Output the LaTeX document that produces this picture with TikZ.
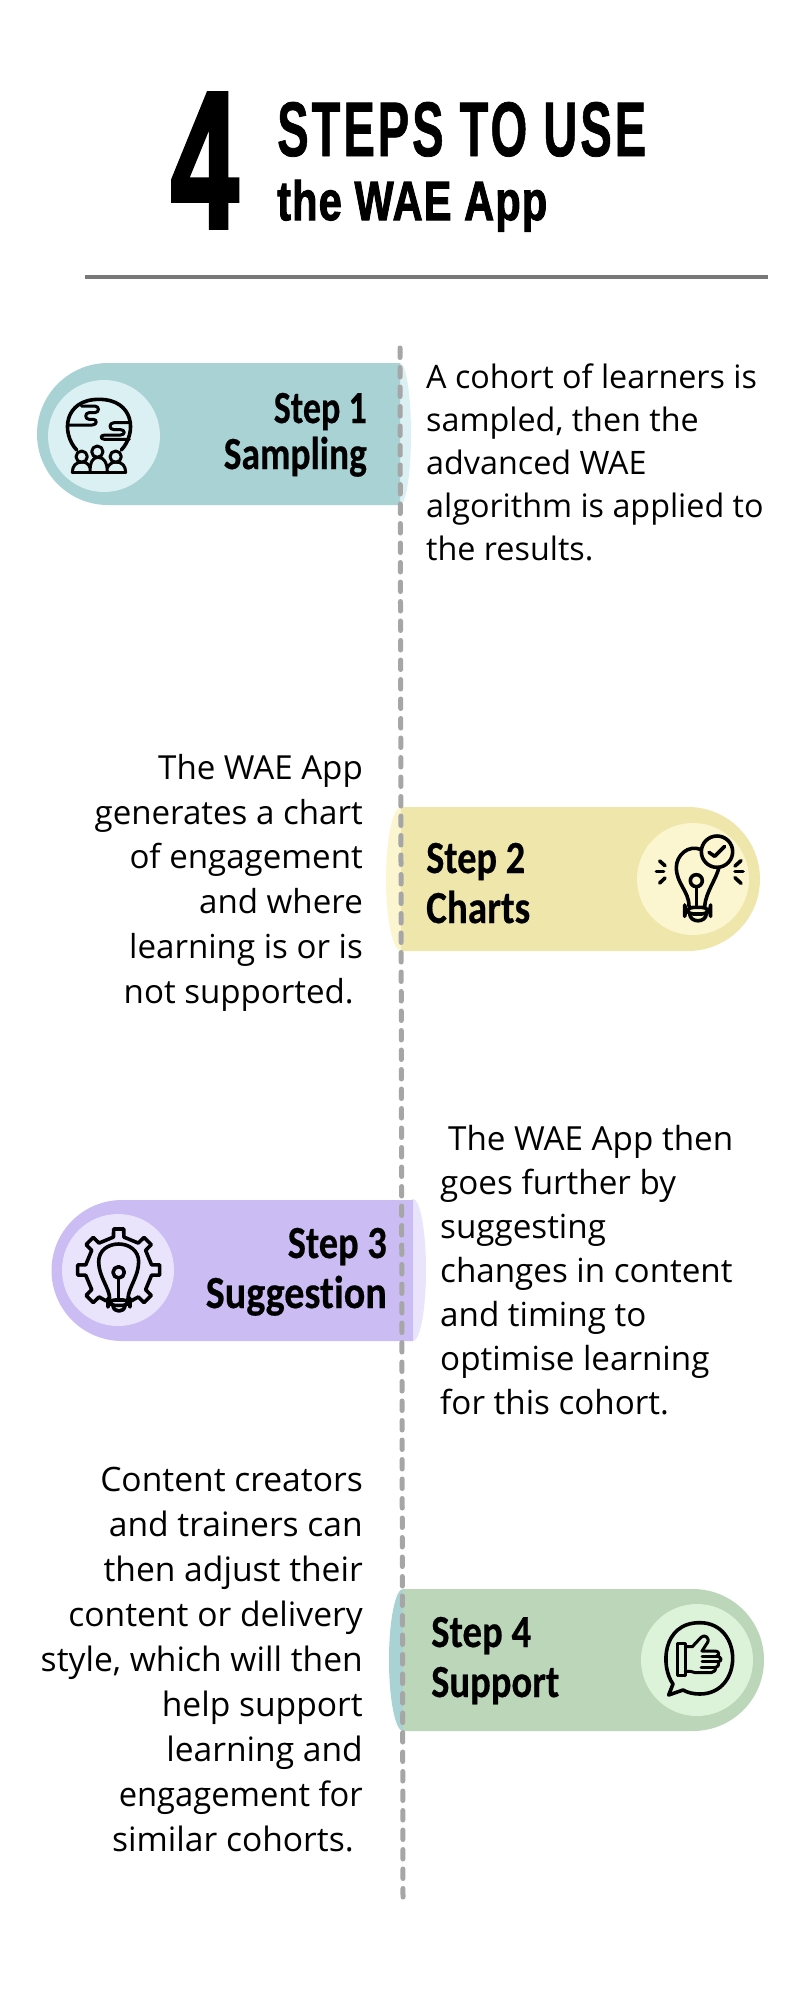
\documentclass[tikz,border=0pt]{standalone}
\usepackage{graphicx}
\usepackage{fontspec}
\setmainfont{Open Sans}
\newfontfamily\titlefont[BoldFeatures={FakeBold=1.0,LetterSpace=6}]{Liberation Sans}
\newfontfamily\subtitlefont[BoldFeatures={FakeBold=2.2,LetterSpace=3}]{Liberation Sans}
\newfontfamily\fourfont[BoldFeatures={FakeBold=3.0}]{Liberation Sans}
\newfontfamily\stepfont[Ligatures=NoCommon,BoldFeatures={FakeBold=0.5}]{Carlito}
\newcommand{\fitw}[2]{\resizebox{#1pt}{\height}{#2}}
\definecolor{tealA}{HTML}{A9D2D5}\definecolor{tealB}{HTML}{DBF0F3}
\definecolor{yelA}{HTML}{EFE6AB}\definecolor{yelB}{HTML}{FBF6D0}
\definecolor{purA}{HTML}{CBBDF4}\definecolor{purB}{HTML}{E9E4FC}
\definecolor{grnA}{HTML}{BBD6B9}\definecolor{grnB}{HTML}{DCF3DA}
\tikzset{
  steptext/.style={inner sep=0pt,font=\stepfont\bfseries\fontsize{46}{46}\selectfont},
  titletext/.style={inner sep=0pt,anchor=base west,font=\bfseries\fontsize{70}{70}\selectfont},
  icon/.style={line width=3.6,line cap=round,line join=round,draw=black},
  iconthin/.style={line width=3.0,line cap=round,line join=round,draw=black},
  stepline/.style={draw=black!35,line width=5,line cap=round,dash pattern=on 9.5 off 10},
}
\begin{document}
\begin{tikzpicture}[x=1pt,y=-1pt]
\useasboundingbox[fill=white] (0,0) rectangle (800,2000);
% title
\node[titletext] (four) at (171,227) {\fourfont\bfseries\resizebox{67pt}{133pt}{4}};
\node[titletext] (t1) at (277,156) {\titlefont\bfseries\resizebox{369pt}{54pt}{STEPS TO USE}};
\node[titletext] (t2) at (277,220) {\subtitlefont\bfseries\resizebox{270pt}{40pt}{the WAE App}};
\coordinate (ra) at (85,277); \coordinate (rb) at (768,277);
\draw[line width=4,draw=black!53] (ra) -- (rb);
% pill 1
\fill[tealB] (400,434) ellipse [x radius=11,y radius=71];
\fill[tealA] (400,363) -- (108,363) arc[start angle=-90,end angle=-270,radius=71] -- (400,505) -- cycle;
\fill[tealB] (104,436) circle (56);
% pill 2
\fill[yelB] (401,879) ellipse [x radius=15,y radius=72];
\fill[yelA] (401,807) -- (688,807) arc[start angle=-90,end angle=90,radius=72] -- (401,951) -- cycle;
\fill[yelB] (693,879) circle (56);
% pill 3
\fill[purB] (413,1270) ellipse [x radius=13,y radius=71];
\fill[purA] (413,1200) -- (122,1200) arc[start angle=-90,end angle=-270,radius=70.5] -- (413,1341) -- cycle;
\fill[purB] (118,1270) circle (56);
% pill 4
\fill[tealA] (403,1660) ellipse [x radius=14,y radius=71];
\fill[grnA] (403,1589) -- (693,1589) arc[start angle=-90,end angle=90,radius=71] -- (403,1731) -- cycle;
\fill[grnB] (697,1660) circle (56);
% dashed centre line
\coordinate (la) at (400,348); \coordinate (lb) at (403,1897);
\draw[stepline] (la) -- (lb);
% step labels
\node[steptext,anchor=base east] (s1a) at (367,423) {\fitw{93}{Step 1}};
\node[steptext,anchor=base east] (s1b) at (367,469) {\fitw{143}{Sampling}};
\node[steptext,anchor=base west] (s2a) at (426,873) {\fitw{99}{Step 2}};
\node[steptext,anchor=base west] (s2b) at (426,923) {\fitw{104}{Charts}};
\node[steptext,anchor=base east] (s3a) at (387,1258) {\fitw{99}{Step 3}};
\node[steptext,anchor=base east] (s3b) at (387,1308) {\fitw{181}{Suggestion}};
\node[steptext,anchor=base west] (s4a) at (431,1647) {\fitw{100}{Step 4}};
\node[steptext,anchor=base west] (s4b) at (431,1697) {\fitw{128}{Support}};
% body text
\node[inner sep=0pt,anchor=north west,align=left,font=\fontsize{32.3}{43}\selectfont] (b1) at (426,364)
 {A cohort of learners is\\sampled, then the\\advanced WAE\\algorithm is applied to\\the results.};
\node[inner sep=0pt,anchor=north east,align=right,font=\fontsize{33.1}{44.8}\selectfont] (b2) at (363,754)
 {The WAE App\\generates a chart\\of engagement\\and where\\learning is or is\\not supported.\hspace*{9pt}};
\node[inner sep=0pt,anchor=north west,align=left,font=\fontsize{33.2}{44}\selectfont] (b3) at (440,1125)
 {\hspace*{8pt}The WAE App then\\goes further by\\suggesting\\changes in content\\and timing to\\optimise learning\\for this cohort.};
\node[inner sep=0pt,anchor=north east,align=right,font=\fontsize{33.6}{45}\selectfont] (b4) at (363,1467)
 {Content creators\\and trainers can\\then adjust their\\content or delivery\\style, which will then\\help support\\learning and\\\fitw{244}{engagement for}\\similar cohorts.\hspace*{9pt}};
% icon 1: globe and people
\begin{scope}[shift={(54,386)},scale=1/3]
 \draw[icon] (68,192) .. controls (20,140) and (30,40) .. (135,40) .. controls (240,40) and (250,140) .. (202,192);
 \draw[iconthin] (82,60) -- (122,60) .. controls (137,60) and (137,80) .. (122,80) -- (105,80) .. controls (92,80) and (92,100) .. (105,100) -- (118,100) .. controls (130,100) and (130,117) .. (115,117) -- (42,117);
 \draw[iconthin] (226,110) -- (180,110) .. controls (164,110) and (164,131) .. (180,131) -- (200,131) .. controls (214,131) and (214,147) .. (200,147) -- (152,147) .. controls (138,147) and (138,160) .. (152,160) -- (226,160);
 \draw[iconthin] (83,212) circle (17);
 \draw[iconthin] (130,197) circle (17);
 \draw[iconthin] (185,212) circle (17);
 \draw[iconthin] (55,260) -- (215,260);
 \draw[iconthin] (55,260) .. controls (55,240) and (65,228) .. (85,228) .. controls (95,228) and (105,235) .. (108,245);
 \draw[iconthin] (108,260) .. controls (108,230) and (115,214) .. (132,214) .. controls (150,214) and (160,230) .. (160,260);
 \draw[iconthin] (160,245) .. controls (165,235) and (175,228) .. (185,228) .. controls (205,228) and (215,240) .. (215,260);
\end{scope}
% icon 2: bulb with check
\begin{scope}[shift={(643,829)},scale=1/3]
 \draw[icon] (222,68) circle (47);
 \draw[icon] (198,70) -- (215,82) -- (245,52);
 \draw[icon] (175,62) .. controls (135,45) and (100,80) .. (100,115) .. controls (100,165) and (138,185) .. (138,232);
 \draw[icon] (228,115) .. controls (220,150) and (188,190) .. (185,232);
 \draw[icon] (160,155) circle (18);
 \draw[icon] (160,173) -- (160,232);
 \draw[icon,rounded corners=9] (125,235) rectangle (203,255);
 \draw[icon] (140,255) .. controls (142,282) and (188,282) .. (190,255);
 \draw[icon] (50,96) -- (66,110); \draw[icon] (40,128) -- (62,128); \draw[icon] (50,162) -- (66,147);
 \draw[icon] (276,111) -- (294,95); \draw[icon] (276,128) -- (300,128); \draw[icon] (276,146) -- (294,163);
\end{scope}
% icon 3: gear with bulb
\begin{scope}[shift={(68,1220)},scale=1/3]
 \begin{scope}[shift={(152,150)}]
 \draw[icon] (112:100) \foreach \a in {135,180,225,270,315,360,405} { -- (\a-9:100) -- (\a-7:124) -- (\a+7:124) -- (\a+9:100) } -- (68:100);
 \end{scope}
 \draw[icon] (125,236) .. controls (125,205) and (92,170) .. (92,125) .. controls (92,92) and (120,72) .. (152,72) .. controls (184,72) and (212,92) .. (212,125) .. controls (212,170) and (180,205) .. (180,236);
 \draw[icon] (152,157) circle (17);
 \draw[icon] (152,174) -- (152,236);
 \draw[icon,rounded corners=7] (120,240) rectangle (186,256);
 \draw[icon] (135,258) .. controls (138,278) and (168,278) .. (171,258);
\end{scope}
% icon 4: thumbs up in speech bubble
\begin{scope}[shift={(647,1610)},scale=1/3]
 \draw[icon] (78,222) .. controls (40,170) and (45,38) .. (158,38) .. controls (290,38) and (290,252) .. (158,252) .. controls (140,252) and (122,248) .. (108,240) -- (65,255) -- cycle;
 \draw[iconthin] (92,100) rectangle (115,197);
 \draw[iconthin] (115,110) -- (136,110) -- (162,82) .. controls (172,70) and (192,85) .. (180,100) -- (165,123) -- (205,123) .. controls (218,123) and (218,138) .. (208,138) .. controls (226,140) and (226,155) .. (212,155) .. controls (218,160) and (214,172) .. (205,172) .. controls (208,180) and (200,188) .. (192,188) -- (145,188) -- (130,184) -- (115,184);
 \draw[iconthin] (165,140) -- (208,140);
 \draw[iconthin] (165,155) -- (212,155);
 \draw[iconthin] (162,172) -- (205,172);
\end{scope}
\end{tikzpicture}
\end{document}
